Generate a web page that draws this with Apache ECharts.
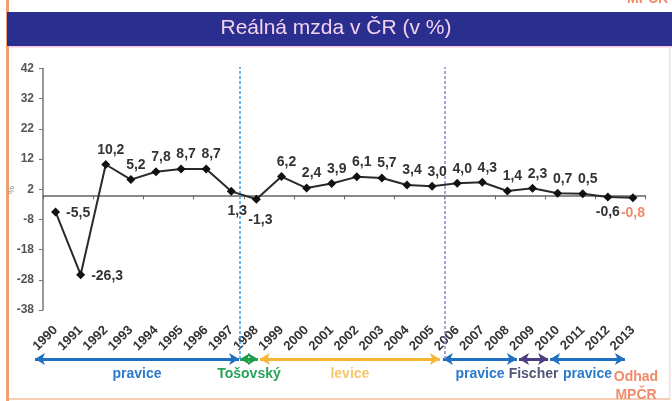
<!DOCTYPE html>
<html>
<head>
<meta charset="utf-8">
<title>Reálná mzda v ČR</title>
<script src="https://cdn.jsdelivr.net/npm/echarts@6/dist/echarts.min.js"></script>
<style>
html, body { margin: 0; padding: 0; background: #fff; }
#chart { width: 672px; height: 401px; }
</style>
</head>
<body>
<div id="chart"></div>
<script>
// roky a reálná mzda (meziroční změna v %)
var years = ['1990', '1991', '1992', '1993', '1994', '1995', '1996', '1997', '1998', '1999', '2000', '2001',
             '2002', '2003', '2004', '2005', '2006', '2007', '2008', '2009', '2010', '2011', '2012', '2013'];
var realWage = [-5.5, -26.3, 10.2, 5.2, 7.8, 8.7, 8.7, 1.3, -1.3, 6.2, 2.4, 3.9,
                6.1, 5.7, 3.4, 3.0, 4.0, 4.3, 1.4, 2.3, 0.7, 0.5, -0.6, -0.8];
var yMin = -38, yMax = 42, yStep = 10;

// vlády pod osou (začátek / konec šipky v letech)
var periodNames = ['pravice', 'Tošovský', 'levice', 'pravice', 'Fischer', 'pravice'];
var periodStart = [1989.18, 1997.35, 1998.14, 2005.43, 2008.46, 2009.70];
var periodEnd   = [1997.31, 1998.06, 2005.31, 2008.38, 2009.62, 2012.68];
// svislé čáry (změna vlády)
var govBreaks = [1997.35, 2005.51];

// barvy
var periodColors = ['#1f6fc2', '#1f9e4c', '#f5b634', '#1f6fc2', '#4a3f7e', '#1f6fc2'];
var periodTextColors = ['#2a7acb', '#2aa25a', '#f6c66a', '#2a7acb', '#555577', '#2a7acb'];
var breakColors = ['#3a9fec', '#8c84d6'];

// umístění popisků bodů
var labelPos = ['right', 'right', 'top', 'top', 'top', 'top', 'top', 'bottom', 'bottom', 'top', 'top', 'top',
                'top', 'top', 'top', 'top', 'top', 'top', 'top', 'top', 'top', 'top', 'bottom', 'bottom'];

var myChart = echarts.init(document.getElementById('chart'));

var fmt = function (v) { return v.toFixed(1).replace('.', ','); };

var lineData = realWage.map(function (v, i) {
    var pos = labelPos[i];
    var lab = { position: pos, distance: 3, offset: [5, 0] };
    if (pos === 'right') { lab.distance = 6; lab.offset = [0, 1]; }
    if (pos === 'bottom') { lab.distance = 4; lab.offset = [0, 0]; }
    if (i === 7) { lab.distance = 8; lab.offset = [6, 0]; }
    if (i === 8) { lab.distance = 8; lab.offset = [4, 1]; }
    if (i === years.length - 1) { lab.color = '#f08a6a'; }  // odhad
    return { value: v, label: lab };
});

var periodLines = periodNames.map(function (name, i) {
    return [
        {
            coord: [periodStart[i], 0],
            lineStyle: { color: periodColors[i] },
            label: { formatter: name, color: periodTextColors[i] }
        },
        { coord: [periodEnd[i], 0] }
    ];
});
var breakLines = govBreaks.map(function (x, i) {
    return [
        { coord: [x, 0], lineStyle: { color: breakColors[i] } },
        { coord: [x, 1] }
    ];
});

myChart.setOption({
    animation: false,
    backgroundColor: '#ffffff',
    textStyle: { fontFamily: 'Liberation Sans, Arial, sans-serif' },
    title: {
        text: 'Reálná mzda v ČR (v %)',
        left: 'center',
        top: 18,
        padding: [0, 0, 0, 10],
        textStyle: { color: '#f3d3ec', fontSize: 21, fontWeight: 'normal' }
    },
    graphic: [
        { type: 'rect', shape: { x: 6, y: 0, width: 3, height: 401 }, style: { fill: '#f0a070' } },
        { type: 'rect', shape: { x: 7, y: 12, width: 665, height: 34 }, style: { fill: '#2a2e8f' } },
        { type: 'rect', shape: { x: 9, y: 46, width: 663, height: 1.5 }, style: { fill: '#efc6dc' } },
        { type: 'rect', shape: { x: 669, y: 47, width: 1.5, height: 352 }, style: { fill: '#f3dede' } },
        { type: 'rect', shape: { x: 9, y: 398, width: 661, height: 2 }, style: { fill: '#f6cdb5' } },
        { type: 'text', x: 627, y: -8, style: { text: 'MPČR', fill: '#f08a6a', font: 'bold 14px Liberation Sans' } },
        { type: 'text', x: 636, y: 368, style: { text: 'Odhad\nMPČR', fill: '#f08a6a', font: 'bold 14px Liberation Sans', textAlign: 'center', lineHeight: 18 } },
        // název osy y
        { type: 'text', x: 12, y: 190, rotation: Math.PI / 2, style: { text: '%', fill: '#888', font: '9px Liberation Sans', textAlign: 'center', textVerticalAlign: 'middle' } }
    ],
    grid: [
        { left: 43, right: 26.5, top: 68.5, bottom: 91, containLabel: false, outerBoundsMode: 'none' },
        { left: 30.45, right: 13.95, top: 67, bottom: 42, containLabel: false, outerBoundsMode: 'none' }
    ],
    xAxis: [
        {
            type: 'category', gridIndex: 0, data: years,
            axisLine: { onZero: true, lineStyle: { color: '#666', width: 1.5 } },
            axisTick: { show: true, length: 4, lineStyle: { color: '#666' } },
            axisLabel: { show: false }
        },
        {
            type: 'category', gridIndex: 0, data: years, position: 'bottom',
            axisLine: { show: false, onZero: false },
            axisTick: { show: false },
            axisLabel: { rotate: 45, interval: 0, margin: 18, color: '#333', fontSize: 13, fontWeight: 'bold' }
        },
        { type: 'value', gridIndex: 1, min: 1989, max: 2014, show: false }
    ],
    yAxis: [
        {
            type: 'value', gridIndex: 0, min: yMin, max: yMax, interval: yStep,
            axisLine: { show: true, lineStyle: { color: '#777', width: 1.5 } },
            axisTick: { show: true, length: 4, lineStyle: { color: '#777' } },
            axisLabel: { color: '#555', fontSize: 12, fontWeight: 'bold', margin: 9 },
            splitLine: { show: false }
        },
        { type: 'value', gridIndex: 1, min: 0, max: 1, show: false }
    ],
    series: [
        {
            name: 'vlády', type: 'line', xAxisIndex: 2, yAxisIndex: 1, data: [], silent: true,
            markLine: {
                silent: true,
                symbol: ['arrow', 'arrow'],
                symbolSize: [9, 10],
                lineStyle: { width: 3, type: 'solid' },
                label: { show: true, position: 'insideMiddleBottom', distance: 8, fontSize: 14, fontWeight: 'bold' },
                emphasis: { disabled: true },
                data: periodLines
            }
        },
        {
            name: 'zlom', type: 'line', xAxisIndex: 2, yAxisIndex: 1, data: [], silent: true,
            markLine: {
                silent: true,
                symbol: ['none', 'none'],
                lineStyle: { width: 1.5, type: [3, 2] },
                label: { show: false },
                emphasis: { disabled: true },
                data: breakLines
            }
        },
        {
            name: 'Reálná mzda', type: 'line', xAxisIndex: 0, yAxisIndex: 0, z: 5,
            data: lineData,
            symbol: 'diamond', symbolSize: 9,
            itemStyle: { color: '#111' },
            lineStyle: { color: '#2a2a2a', width: 2 },
            label: {
                show: true, color: '#333', fontSize: 14, fontWeight: 'bold',
                formatter: function (p) { return fmt(p.value); }
            }
        }
    ]
});
</script>
</body>
</html>
